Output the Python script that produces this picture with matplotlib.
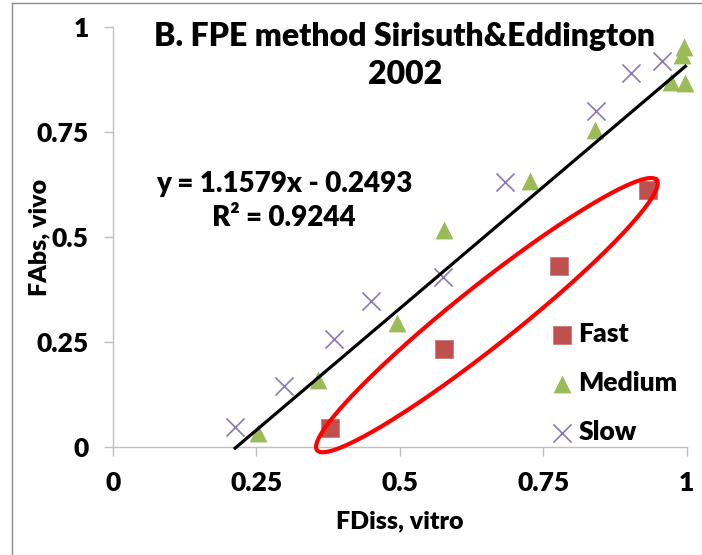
import matplotlib.pyplot as plt
import numpy as np
from matplotlib.lines import Line2D

plt.rcParams['font.family'] = ['Lato', 'DejaVu Sans']
plt.rcParams['font.weight'] = 'heavy'

# data
fast_x = [0.378, 0.577, 0.777, 0.932]
fast_y = [0.045, 0.233, 0.431, 0.613]
medium_x = [0.252, 0.358, 0.496, 0.578, 0.727, 0.840, 0.973, 0.998, 0.993, 0.995]
medium_y = [0.034, 0.160, 0.295, 0.517, 0.634, 0.755, 0.869, 0.867, 0.933, 0.952]
slow_x = [0.213, 0.298, 0.386, 0.449, 0.576, 0.684, 0.843, 0.904, 0.957]
slow_y = [0.048, 0.145, 0.256, 0.348, 0.405, 0.632, 0.801, 0.890, 0.919]

slope, intercept, r2 = 1.1579, -0.2493, 0.9244

ticks = [0, 0.25, 0.5, 0.75, 1]
tick_labels = ["0", "0.25", "0.5", "0.75", "1"]

# red ellipse around the fast group (centre in data, size in pixels)
ell_center = (0.652, 0.314)
ell_a, ell_b, ell_angle = 217, 30, 38.5

fig = plt.figure(figsize=(7.02, 5.55), dpi=100)
ax = fig.add_axes([113 / 702, 1 - 447 / 555, 573.5 / 702, 420 / 555])

ax.scatter(fast_x, fast_y, marker='s', s=150, color='#C0504D', edgecolor='#C77B78',
           linewidth=0.6, label='Fast', zorder=3, clip_on=False)
ax.scatter(medium_x, medium_y, marker='^', s=165, color='#9BBB59', linewidth=0,
           label='Medium', zorder=3, clip_on=False)
ax.scatter(slow_x, slow_y, marker='x', s=170, color='#8A77B5', linewidth=1.2,
           label='Slow', zorder=3, clip_on=False)

# trendline
all_x = fast_x + medium_x + slow_x
tx = np.array([min(all_x), max(all_x)])
ax.plot(tx, slope * tx + intercept, color='black', lw=2.3, zorder=4, clip_on=False)

ax.set_xlim(0, 1)
ax.set_ylim(0, 1)

# ellipse drawn in pixel space then mapped back to data units
fig.canvas.draw()
bb = ax.get_window_extent()
t = np.linspace(0, 2 * np.pi, 300)
th = np.deg2rad(ell_angle)
ex = ell_a * np.cos(t) * np.cos(th) - ell_b * np.sin(t) * np.sin(th)
ey = ell_a * np.cos(t) * np.sin(th) + ell_b * np.sin(t) * np.cos(th)
ax.plot(ell_center[0] + ex / bb.width, ell_center[1] + ey / bb.height,
        color='#FF0000', lw=3, zorder=5, clip_on=False)

for s in ['top', 'right']:
    ax.spines[s].set_visible(False)
for s in ['left', 'bottom']:
    ax.spines[s].set_color('#BFBFBF')
    ax.spines[s].set_linewidth(1)

ax.set_xticks(ticks)
ax.set_xticklabels(tick_labels)
ax.set_yticks(ticks)
ax.set_yticklabels(tick_labels)
ax.tick_params(direction='out', length=6.5, width=1, color='#BFBFBF',
               labelsize=19, pad=11)

ax.set_xlabel("FDiss, vitro", fontsize=18, fontweight='heavy', labelpad=11)
ax.set_ylabel("FAbs, vivo", fontsize=18, fontweight='heavy', labelpad=-10)

ax.text(0.509, 1.012, "B. FPE method Sirisuth&Eddington\n2002", transform=ax.transAxes,
        ha='center', va='top', fontsize=23, fontweight='heavy', linespacing=1.36)

ax.text(0.298, 0.585, f"y = {slope}x - {abs(intercept)}\nR² = {r2}", transform=ax.transAxes,
        ha='center', va='center', fontsize=20, fontweight='heavy', linespacing=1.4)

ax.legend(loc='upper left', bbox_to_anchor=(0.74, 0.323), frameon=False,
          prop={'size': 19, 'weight': 'heavy'},
          handletextpad=0.05, labelspacing=0.95, borderaxespad=0, handlelength=1.1,
          scatterpoints=1)

# outer chart border
fig.add_artist(Line2D([12 / 702, 12 / 702], [0, 1 - 3 / 555], color='#8C8C8C', lw=1))
fig.add_artist(Line2D([12 / 702, 1], [1 - 3 / 555, 1 - 3 / 555], color='#8C8C8C', lw=1))

fig.savefig("out.png", dpi=100)
